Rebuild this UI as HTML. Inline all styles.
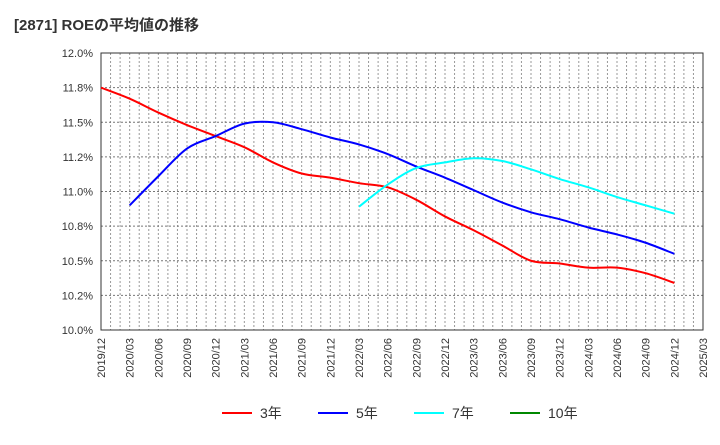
<!DOCTYPE html>
<html><head><meta charset="utf-8"><style>
body{margin:0;background:#fff;font-family:"Liberation Sans","Noto Sans CJK JP",sans-serif}
</style></head><body>
<svg id="c" width="720" height="440" xmlns="http://www.w3.org/2000/svg" font-family="Liberation Sans, Noto Sans CJK JP, sans-serif">
<text x="14" y="30" font-size="15" font-weight="bold" fill="#333">[2871]  ROEの平均値の推移</text>
</svg>
<script>
const categories=["2019/12","2020/03","2020/06","2020/09","2020/12","2021/03","2021/06","2021/09","2021/12","2022/03","2022/06","2022/09","2022/12","2023/03","2023/06","2023/09","2023/12","2024/03","2024/06","2024/09","2024/12","2025/03"];
const yTicks=[10.0,10.25,10.5,10.75,11.0,11.25,11.5,11.75,12.0];
const yTickLabels=["10.0%","10.2%","10.5%","10.8%","11.0%","11.2%","11.5%","11.8%","12.0%"];
const s3=[11.75,11.67,11.57,11.48,11.40,11.32,11.21,11.13,11.10,11.06,11.03,10.94,10.82,10.72,10.61,10.50,10.48,10.45,10.45,10.41,10.34,null];
const s5=[null,10.90,11.11,11.31,11.40,11.49,11.50,11.45,11.39,11.34,11.27,11.18,11.10,11.01,10.92,10.85,10.80,10.74,10.69,10.63,10.55,null];
const s7=[null,null,null,null,null,null,null,null,null,10.89,11.05,11.17,11.21,11.24,11.22,11.16,11.09,11.03,10.96,10.90,10.84,null];
const s10=[];
const L=101,R=703,T=53,B=330;
const svg=document.getElementById('c');const NS='http://www.w3.org/2000/svg';
const xs=i=>L+(R-L)*i/(categories.length-1);
const ys=v=>B-(v-10)/2*(B-T);
function mk(t,a,p){const e=document.createElementNS(NS,t);for(const k in a)e.setAttribute(k,a[k]);(p||svg).appendChild(e);return e;}
// monthly vertical grid
for(let m=1;m<(categories.length-1)*3;m++){const x=L+(R-L)*m/((categories.length-1)*3);
const g=mk('line',{x1:x,x2:x,y1:T,y2:B,stroke:'#999','stroke-dasharray':'2,2','stroke-width':1});

}
yTicks.forEach((v,i)=>{const y=ys(v);
if(i>0&&i<yTicks.length-1){const g=mk('line',{x1:L,x2:R,y1:y,y2:y,stroke:'#777','stroke-dasharray':'2,2'});

}
const t=mk('text',{x:L-8,y:y+4,'text-anchor':'end','font-size':11,fill:'#333'});t.textContent=yTickLabels[i];

});
categories.forEach((c,i)=>{const x=xs(i);
const t=mk('text',{x:x+4,y:B+8,'text-anchor':'end','font-size':11,fill:'#333',transform:`rotate(-90 ${x+4} ${B+8})`});t.textContent=c;

});
const fr=mk('rect',{x:L,y:T,width:R-L,height:B-T,fill:'none',stroke:'#333'});


function path(arr){const p=[];arr.forEach((v,i)=>{if(v!=null)p.push([xs(i),ys(v)]);});
if(p.length<2)return '';let d=`M${p[0][0]},${p[0][1]}`;
for(let i=0;i<p.length-1;i++){const p0=p[i-1]||p[i],p1=p[i],p2=p[i+1],p3=p[i+2]||p2;
d+=` C${p1[0]+(p2[0]-p0[0])/6},${p1[1]+(p2[1]-p0[1])/6} ${p2[0]-(p3[0]-p1[0])/6},${p2[1]-(p3[1]-p1[1])/6} ${p2[0]},${p2[1]}`;}return d;}
[[s3,'#f00','series-3yr'],[s5,'#00f','series-5yr'],[s7,'#0ff','series-7yr'],[s10,'#080','series-10yr']].forEach(([a,c,n])=>{const d=path(a);if(!d)return;
const e=mk('path',{d:d,fill:'none',stroke:c,'stroke-width':2});

});
const leg=[['3年','#f00',222],['5年','#00f',318],['7年','#0ff',414],['10年','#080',510]];
leg.forEach(([l,c,x])=>{const g=mk('g',{});


mk('line',{x1:x,x2:x+30,y1:413,y2:413,stroke:c,'stroke-width':2},g);
const t=mk('text',{x:x+38,y:418,'font-size':14,fill:'#333'},g);t.textContent=l;});
</script>
</body></html>
